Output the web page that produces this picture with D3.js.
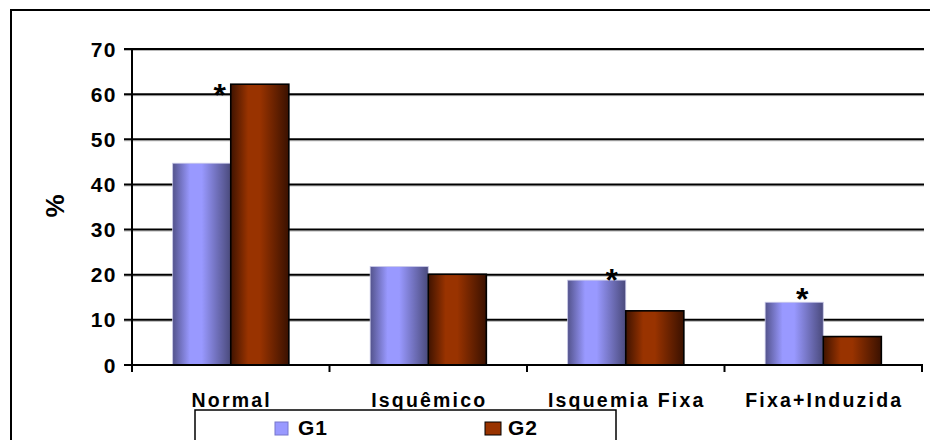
<!DOCTYPE html>
<html>
<head>
<meta charset="utf-8">
<script src="https://cdn.jsdelivr.net/npm/d3@7"></script>
<style>
  html, body { margin: 0; padding: 0; background: #fff; }
  svg { display: block; font-family: "Liberation Sans", Arial, sans-serif; }
</style>
</head>
<body>
<svg id="chart" width="930" height="440"></svg>
<script>
// Perfusion result categories and percentage per group
const categories = ["Normal", "Isquêmico", "Isquemia Fixa", "Fixa+Induzida"];
const seriesNames = ["G1", "G2"];
const g1Values = [44.7, 21.8, 18.8, 13.9];
const g2Values = [62.2, 20.1, 12.0, 6.3];
const yTicks = [0, 10, 20, 30, 40, 50, 60, 70];
// significance markers: category and group
const markerCategories = ["Normal", "Isquemia Fixa", "Fixa+Induzida"];
const markerSeries = ["G2", "G1", "G1"];

const svg = d3.select("#chart");
const plot = { left: 132, right: 922, top: 49, bottom: 365 };

// gradients for the bars
const defs = svg.append("defs");
function addGradient(id, edgeL, mid, edgeR) {
  const g = defs.append("linearGradient").attr("id", id)
    .attr("x1", "0%").attr("x2", "100%").attr("y1", "0%").attr("y2", "0%");
  g.append("stop").attr("offset", "0%").attr("stop-color", edgeL);
  g.append("stop").attr("offset", "30%").attr("stop-color", mid);
  g.append("stop").attr("offset", "50%").attr("stop-color", mid);
  g.append("stop").attr("offset", "100%").attr("stop-color", edgeR);
}
addGradient("gradG1", "#53538c", "#9999ff", "#4a4a7c");
addGradient("gradG2", "#3f1300", "#993300", "#3a1100");

// outer frame
svg.append("rect")
  .attr("x", 11).attr("y", 10)
  .attr("width", 960).attr("height", 480)
  .attr("fill", "none").attr("stroke", "#000").attr("stroke-width", 2);

const x = d3.scaleBand().domain(categories).range([plot.left, plot.right]).padding(0);
const xs = d3.scaleBand().domain(seriesNames).range([0, x.bandwidth()]).paddingInner(0).paddingOuter(0.7);
const y = d3.scaleLinear().domain([0, 70]).range([plot.bottom, plot.top]);

// horizontal gridlines with a faint shadow
const grid = svg.append("g");
yTicks.filter(t => t > 0).forEach(t => {
  grid.append("line")
    .attr("x1", plot.left - 8).attr("x2", plot.right + 2)
    .attr("y1", y(t) + 1.5).attr("y2", y(t) + 1.5)
    .attr("stroke", "#b8b8b8").attr("stroke-width", 1);
  grid.append("line")
    .attr("x1", plot.left - 8).attr("x2", plot.right + 2)
    .attr("y1", y(t)).attr("y2", y(t))
    .attr("stroke", "#000").attr("stroke-width", 2);
});

// bars
const rows = categories.map((c, i) => ({ cat: c, values: [g1Values[i], g2Values[i]] }));
const barG = svg.append("g");
rows.forEach(r => {
  r.values.forEach((v, j) => {
    const s = seriesNames[j];
    barG.append("rect")
      .attr("x", x(r.cat) + xs(s))
      .attr("y", y(v))
      .attr("width", xs.bandwidth())
      .attr("height", y(0) - y(v))
      .attr("fill", s === "G1" ? "url(#gradG1)" : "url(#gradG2)")
      .attr("stroke", s === "G1" ? "#c8c8e8" : "#000")
      .attr("stroke-width", s === "G1" ? 0.8 : 1.6);
  });
});

// y axis
const yAxis = svg.append("g");
yAxis.append("line")
  .attr("x1", plot.left).attr("x2", plot.left)
  .attr("y1", y(70)).attr("y2", y(0) + 7)
  .attr("stroke", "#000").attr("stroke-width", 2);
yTicks.forEach(t => {
  yAxis.append("text")
    .attr("x", 117).attr("y", y(t))
    .attr("dy", "0.36em")
    .attr("text-anchor", "end")
    .attr("font-size", 21).attr("font-weight", "bold")
    .attr("letter-spacing", 1.5)
    .text(t);
});

// x axis baseline and category ticks
const xAxis = svg.append("g");
xAxis.append("line")
  .attr("x1", plot.left - 8).attr("x2", plot.right + 1)
  .attr("y1", y(0)).attr("y2", y(0))
  .attr("stroke", "#000").attr("stroke-width", 2);
categories.forEach((c, i) => {
  const xb = x(c) + x.bandwidth();
  xAxis.append("line")
    .attr("x1", xb).attr("x2", xb)
    .attr("y1", y(0)).attr("y2", y(0) + 7)
    .attr("stroke", "#000").attr("stroke-width", 2);
  xAxis.append("text")
    .attr("x", x(c) + x.bandwidth() / 2 + 1)
    .attr("y", 407)
    .attr("text-anchor", "middle")
    .attr("font-size", 19.5).attr("font-weight", "bold")
    .attr("letter-spacing", 2.2)
    .text(c);
});

// y axis title
svg.append("text")
  .attr("transform", "translate(64,206) rotate(-90)")
  .attr("text-anchor", "middle")
  .attr("font-size", 26).attr("font-weight", "bold")
  .text("%");

// significance markers
markerCategories.forEach((c, i) => {
  const s = markerSeries[i];
  const k = categories.indexOf(c);
  const v = s === "G1" ? g1Values[k] : g2Values[k];
  const barX = x(c) + xs(s);
  let cx, dy;
  if (s === "G2") { cx = barX - 11; dy = 22; }
  else if (c === "Isquemia Fixa") { cx = barX + xs.bandwidth() / 2 + 15; dy = 11; }
  else { cx = barX + xs.bandwidth() / 2 + 8; dy = 8; }
  svg.append("text")
    .attr("x", cx).attr("y", y(v) + dy)
    .attr("text-anchor", "middle")
    .attr("font-size", 32).attr("font-weight", "bold")
    .text("*");
});

// legend
const legend = svg.append("g");
legend.append("rect")
  .attr("x", 195).attr("y", 410)
  .attr("width", 421).attr("height", 60)
  .attr("fill", "#fff").attr("stroke", "#000").attr("stroke-width", 1.5);
const legendX = [275, 485];
seriesNames.forEach((s, j) => {
  legend.append("rect")
    .attr("x", legendX[j]).attr("y", 422)
    .attr("width", s === "G1" ? 13 : 16).attr("height", 13)
    .attr("fill", s === "G1" ? "#9999ff" : "#993300")
    .attr("stroke", s === "G1" ? "#7777cc" : "#000")
    .attr("stroke-width", 1);
  legend.append("text")
    .attr("x", legendX[j] + 23).attr("y", 435)
    .attr("font-size", 21).attr("font-weight", "bold")
    .attr("letter-spacing", 1)
    .text(s);
});
</script>
</body>
</html>
